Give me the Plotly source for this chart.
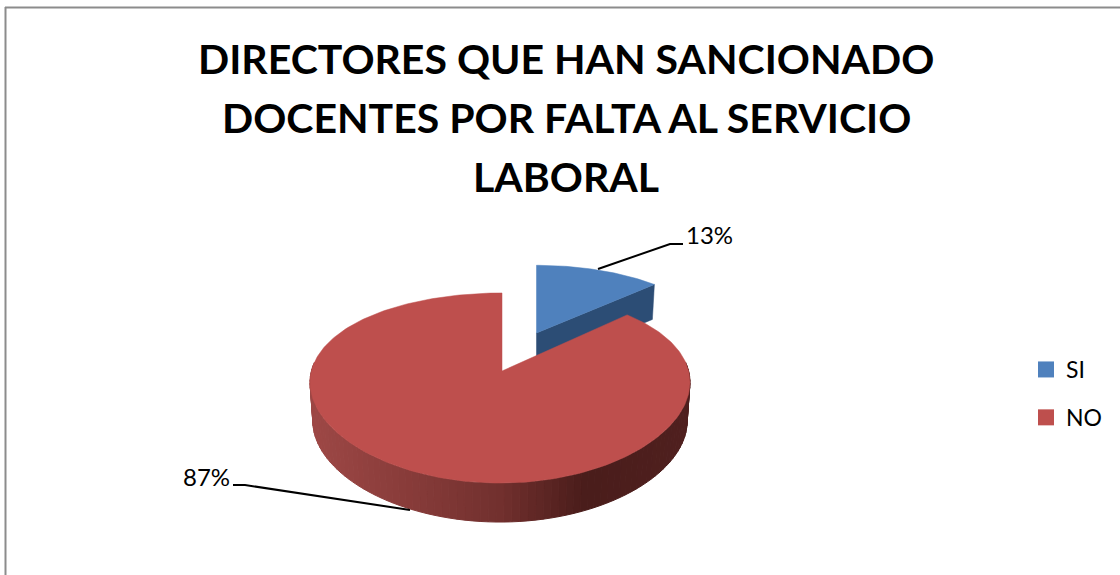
import numpy as np
import plotly.graph_objects as go

# Data
categories = ["SI", "NO"]
values = [13, 87]
title_lines = ["DIRECTORES QUE HAN SANCIONADO", "DOCENTES POR FALTA AL SERVICIO", "LABORAL"]

# Style
top_colors = ["#4F81BD", "#BE4F4D"]
face_color = "#2C4D75"
FONT = "Lato"

# Perspective projection of the pie plane to the page (pixels)
OX, OY = 500.0, 371.0        # pie centre on the page
APEX_DX = 2.0
A, B, K, KX = 92.0, 188.6, 0.179, 0.12
EXPLODE = 0.487              # separation, in pie radii
DEPTH_RED, DEPTH_BLUE = 39.0, 35.0


def project(u, v):
    return OX + B * u / (1 + KX * v), OY - A * v / (1 + K * v)


total = sum(values)
a0 = 0.0
a1 = 2 * np.pi * values[0] / total
mid = (a0 + a1) / 2
du, dv = EXPLODE * np.sin(mid), EXPLODE * np.cos(mid)

fig = go.Figure()


def poly(xs, ys, color, lw=0.5):
    fig.add_trace(go.Scatter(x=list(xs), y=list(ys), mode="lines", fill="toself", fillcolor=color,
                             line=dict(color=color, width=lw), showlegend=False, hoverinfo="skip"))


# Blue slice (behind)
t = np.linspace(a0, a1, 60)
_, by = project(np.sin(t) + du, np.cos(t) + dv)
ax = 536.5
ay = project(du, dv)[1]
bx = ax + 1.04 * 187 * np.sin(t) / (1 + K * (np.cos(t) + dv))
rx, ry = bx[-1], by[-1]
poly([ax, rx, rx - 2, ax, ax], [ay, ry, ry + DEPTH_BLUE, ay + DEPTH_BLUE, ay], face_color)
poly(np.r_[ax, bx, ax], np.r_[ay, by, ay], top_colors[0])

# Red side wall: shaded strips along the front arc
side_x = [310, 400, 500, 585, 690]
side_c = np.array([[0x9E, 0x48, 0x46], [0x8A, 0x3D, 0x3B], [0x72, 0x30, 0x2E], [0x4A, 0x1D, 0x1B], [0x50, 0x20, 0x1F]])
th = np.linspace(np.pi * 0.47, np.pi * 1.53, 90)
tx, ty = project(np.sin(th), np.cos(th))
cx = (tx.min() + tx.max()) / 2
lx = cx + (tx - cx) * 0.985
ly = ty + DEPTH_RED
for i in range(len(th) - 1):
    xm = (tx[i] + tx[i + 1]) / 2
    rgb = [int(np.interp(xm, side_x, side_c[:, j])) for j in range(3)]
    poly([tx[i], tx[i + 1], lx[i + 1], lx[i], tx[i]], [ty[i], ty[i + 1], ly[i + 1], ly[i], ty[i]],
         f"rgb({rgb[0]},{rgb[1]},{rgb[2]})", 1)

# Red slice top
t = np.linspace(a1, 2 * np.pi, 240)
rx2, ry2 = project(np.sin(t), np.cos(t))
rx2 = rx2 + APEX_DX * np.clip(np.cos(t), 0, 1) ** 8
o = project(0.0, 0.0)
ox = o[0] + APEX_DX
poly(np.r_[ox, rx2, ox], np.r_[o[1], ry2, o[1]], top_colors[1])

# Legend entries
for name, col in zip(categories, top_colors):
    fig.add_trace(go.Scatter(x=[None], y=[None], mode="markers", name=name, legendgroup=name,
                             marker=dict(symbol="square", size=16, color=col)))

annotations = []
for line, y in zip(title_lines, [58, 117, 176]):
    annotations.append(dict(text=f"<b>{line}</b>", x=566, y=y, xref="x", yref="y", showarrow=False,
                            xanchor="center", yanchor="middle", font=dict(family=FONT, size=41, color="#000000")))
for v, x, y, anc in zip(values, [684, 232], [234, 476], ["left", "right"]):
    annotations.append(dict(text=f"{v}%", x=x, y=y, xref="x", yref="y", showarrow=False, xanchor=anc,
                            yanchor="middle", font=dict(family=FONT, size=24, color="#000000")))

leader = dict(type="path", xref="x", yref="y", line=dict(color="#000000", width=2))
gray = dict(color="#8C8C8C", width=2)
shapes = [
    dict(leader, path="M598,269 L670,244 L683,244"),
    dict(leader, path="M410,510 L245,485 L233,485"),
    dict(type="line", xref="x", yref="y", x0=5, x1=1120, y0=7.5, y1=7.5, line=gray),
    dict(type="line", xref="x", yref="y", x0=5.5, x1=5.5, y0=7, y1=575, line=gray),
]

fig.update_layout(
    width=1120, height=575, margin=dict(l=0, r=0, t=0, b=0),
    paper_bgcolor="#FFFFFF", plot_bgcolor="#FFFFFF",
    xaxis=dict(range=[0, 1120], visible=False, fixedrange=True),
    yaxis=dict(range=[575, 0], visible=False, fixedrange=True),
    annotations=annotations, shapes=shapes,
    legend=dict(x=1026 / 1120, y=1 - 348 / 575, xanchor="left", yanchor="top", tracegroupgap=15,
                font=dict(family=FONT, size=23, color="#000000"), bgcolor="rgba(0,0,0,0)", itemwidth=30),
)
fig.write_html("out.html", config={"displayModeBar": False},
               post_script="document.body.style.margin='0';document.body.style.overflow='hidden';")
